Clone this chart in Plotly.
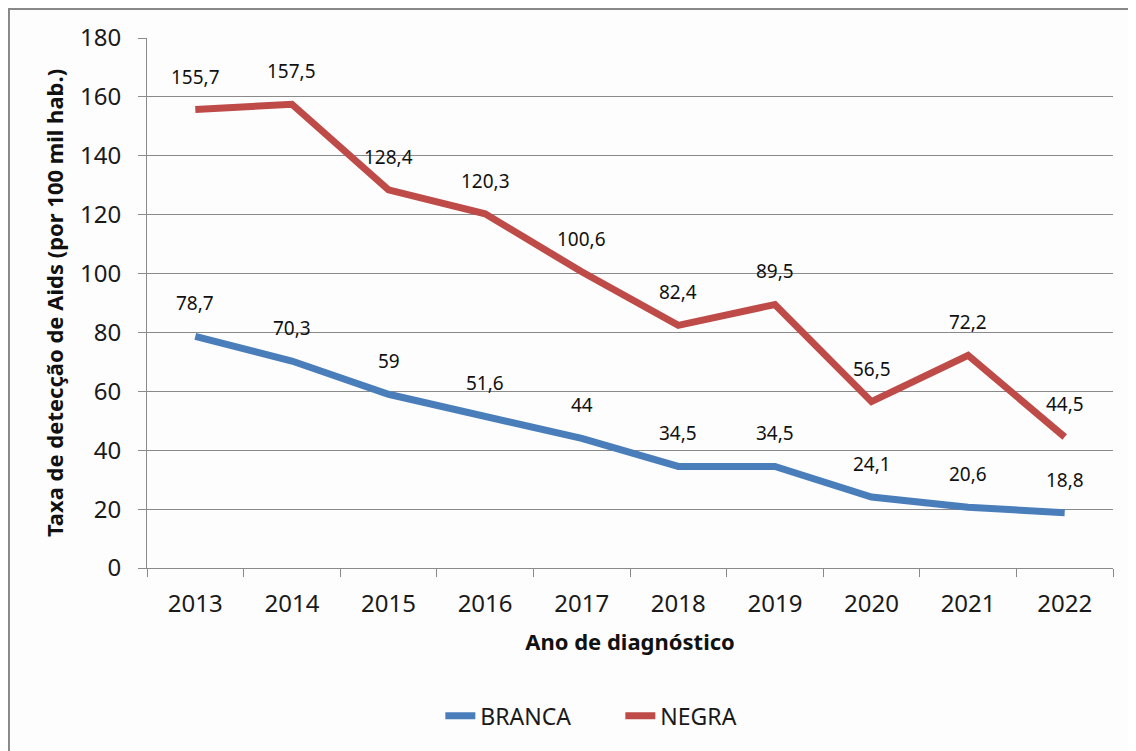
import plotly.graph_objects as go

anos = ["2013", "2014", "2015", "2016", "2017", "2018", "2019", "2020", "2021", "2022"]
branca = [78.7, 70.3, 59, 51.6, 44, 34.5, 34.5, 24.1, 20.6, 18.8]
negra = [155.7, 157.5, 128.4, 120.3, 100.6, 82.4, 89.5, 56.5, 72.2, 44.5]
y_ticks = [0, 20, 40, 60, 80, 100, 120, 140, 160, 180]

BLUE = "#4A7EBB"
RED = "#BE4B48"
GRID = "#8A8A8A"
FONT = "Noto Sans"


def fmt(v):
    return ("%g" % v).replace(".", ",")


fig = go.Figure()
fig.add_trace(go.Scatter(x=anos, y=branca, mode="lines", name="BRANCA",
                         line=dict(color=BLUE, width=7)))
fig.add_trace(go.Scatter(x=anos, y=negra, mode="lines", name="NEGRA",
                         line=dict(color=RED, width=7)))

annotations = []
for series in (branca, negra):
    for i, v in enumerate(series):
        annotations.append(dict(x=i, y=v, text=fmt(v), showarrow=False,
                                yshift=33, xref="x", yref="y",
                                font=dict(family=FONT, size=19, color="#111111")))

fig.update_layout(
    width=1128, height=743,
    margin=dict(l=139, r=23, t=30, b=183),
    paper_bgcolor="#FDFDFD", plot_bgcolor="#FDFDFD",
    font=dict(family=FONT, color="#1a1a1a"),
    annotations=annotations,
    showlegend=True,
    legend=dict(orientation="h", x=0.49, xanchor="center", y=-0.279, yanchor="middle",
                font=dict(family=FONT, size=23, color="#1a1a1a"),
                entrywidth=135, bgcolor="rgba(0,0,0,0)"),
    shapes=[dict(type="rect", xref="paper", yref="paper",
                 x0=-0.1429, x1=1.2, y0=1.0547, y1=-0.6,
                 line=dict(color="#888888", width=2), layer="below")],
)

fig.update_xaxes(
    type="category", range=[-0.5, len(anos) - 0.5], tickangle=0,
    tickson="boundaries", ticks="outside", ticklen=8, ticklabelstandoff=14,
    tickcolor=GRID, showline=True, linecolor=GRID, linewidth=1,
    showgrid=False, tickfont=dict(family=FONT, size=24, color="#1a1a1a"),
    title=dict(text="<b>Ano de diagnóstico</b>", standoff=16,
               font=dict(family=FONT, size=22, color="#111111")),
)
fig.update_yaxes(
    range=[0, 180], tickvals=y_ticks, ticks="outside", ticklen=8, ticklabelstandoff=12,
    tickcolor=GRID, showline=True, linecolor=GRID, linewidth=1,
    showgrid=True, gridcolor=GRID, gridwidth=1, zeroline=False,
    tickfont=dict(family=FONT, size=24, color="#1a1a1a"),
    title=dict(text="<b>Taxa de detecção de Aids (por 100 mil hab.)</b>", standoff=10,
               font=dict(family=FONT, size=22, color="#111111")),
)

fig.write_html("out.html")
